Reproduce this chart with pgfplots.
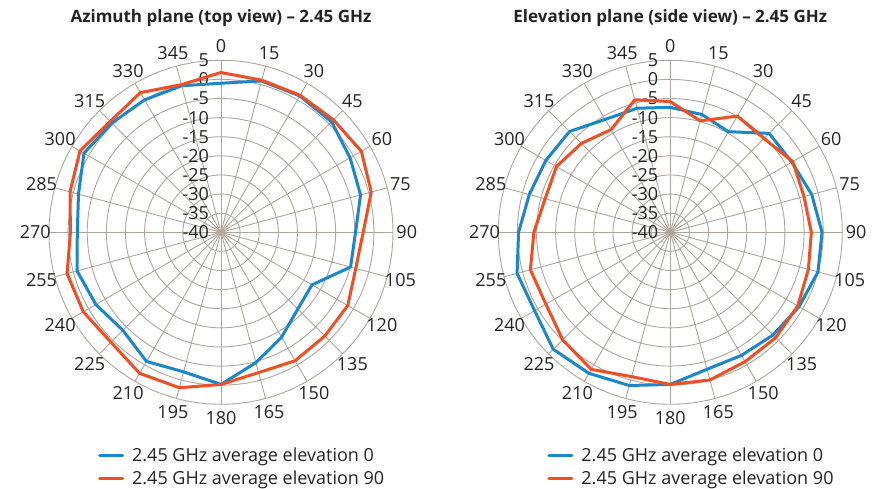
\documentclass[border=0pt]{standalone}
\usepackage{fontspec}
\setmainfont{Open Sans}
\usepackage{pgfplots}
\pgfplotsset{compat=1.18}
\usepackage{pgfplotstable}
\definecolor{cblue}{RGB}{27,134,204}
\definecolor{cred}{RGB}{240,78,35}
\definecolor{cgrid}{RGB}{175,165,155}
\definecolor{ctext}{RGB}{35,35,35}

% angle (deg, clockwise from top), value (dB) elevation 0 (b), elevation 90 (r)
\pgfplotstableread{
a b r
0 -1.0 1.8
15 1.0 1.2
30 1.2 1.4
45 0.9 1.6
60 -1.0 2.4
75 -2.2 0.7
90 -4.8 -2.8
105 -4.9 -3.5
120 -12.5 -1.7
135 -11.6 -1.6
150 -8.3 -1.2
165 -4.7 -2.0
180 -0.2 -0.2
195 -2.2 2.1
210 -1.0 2.6
225 -3.7 0.7
240 -2.2 1.6
255 -1.0 1.7
270 -2.4 -0.6
285 -1.4 0.9
300 1.4 2.6
315 0.4 1.0
330 0.0 2.2
345 -0.3 0.0
360 -1.0 1.8
}\azi

\pgfplotstableread{
a b r
0 -7.3 -5.8
15 -8.1 -9.8
30 -9.6 -4.9
45 -3.4 -5.3
60 -3.3 -3.0
75 -1.7 -3.8
90 -0.3 -3.1
105 0.0 -2.6
120 -1.1 -1.5
135 -2.0 -1.0
150 -2.8 -0.9
165 -2.9 0.0
180 -0.2 -0.2
195 1.5 -0.9
210 2.6 1.4
225 3.3 -0.2
240 1.0 -2.4
255 1.5 -2.1
270 -0.3 -4.3
285 -1.8 -6.1
300 -2.4 -5.6
315 -2.7 -7.1
330 -5.9 -9.0
345 -6.4 -4.1
360 -7.3 -5.8
}\ele

\tikzset{lab/.style={font=\fontsize{18}{20}\selectfont, text=ctext, inner sep=0pt}}

\pgfplotsset{
  polstyle/.style={
    hide axis, scale only axis, width=382.2pt, height=382.2pt,
    xmin=-50,xmax=50,ymin=-50,ymax=50, clip=false, anchor=center,
    legend style={draw=none, fill=none, inner sep=0pt,
      font=\fontsize{18}{21}\selectfont, text=ctext,
      at={(0.178,-0.062)}, anchor=north west, row sep=5pt,
      nodes={inner sep=1pt},
      /tikz/every even column/.append style={column sep=0pt}},
    legend cell align=left,
    legend image code/.code={\draw[##1, line width=3pt] (0pt,0pt) -- (23pt,0pt);},
    title style={at={(0.5,1.046)}, anchor=center,
      font=\bfseries\fontsize{17}{20}\selectfont, text=ctext},
  },
  ser/.style={line width=3pt, line join=round, line cap=round},
}

\newcommand\polgrid{%
  \pgfplotsinvokeforeach{5,10,...,45}{\draw[cgrid, line width=0.9pt] (axis cs:0,0) circle[radius=##1];}
  \pgfplotsinvokeforeach{0,15,...,345}{\draw[cgrid, line width=0.9pt] (axis cs:0,0) -- (axis cs:{45*sin(##1)},{45*cos(##1)});}
  \pgfplotsinvokeforeach{0,15,...,345}{\node[lab] at (axis cs:{48.6*sin(##1)},{48.6*cos(##1)}) {##1};}
  \node[lab, anchor=east] at (axis cs:-3.1,45) {5};
  \node[lab, anchor=east] at (axis cs:-3.1,40) {0};
  \node[lab, anchor=east] at (axis cs:-3.1,35) {-5};
  \node[lab, anchor=east] at (axis cs:-3.1,30) {-10};
  \node[lab, anchor=east] at (axis cs:-3.1,25) {-15};
  \node[lab, anchor=east] at (axis cs:-3.1,20) {-20};
  \node[lab, anchor=east] at (axis cs:-3.1,15) {-25};
  \node[lab, anchor=east] at (axis cs:-3.1,10) {-30};
  \node[lab, anchor=east] at (axis cs:-3.1,5) {-35};
  \node[lab, anchor=east] at (axis cs:-3.1,0) {-40};
}

\begin{document}
\begin{tikzpicture}[x=1pt,y=1pt]
\begin{axis}[polstyle, at={(221pt,255.7pt)}, title={Azimuth plane (top view) – 2.45 GHz}]
\polgrid
\addplot[ser, cblue] table[x expr={(\thisrow{b}+40)*sin(\thisrow{a})}, y expr={(\thisrow{b}+40)*cos(\thisrow{a})}] {\azi};
\addlegendentry{\hspace{7pt}2.45 GHz average elevation 0}
\addplot[ser, cred] table[x expr={(\thisrow{r}+40)*sin(\thisrow{a})}, y expr={(\thisrow{r}+40)*cos(\thisrow{a})}] {\azi};
\addlegendentry{\hspace{7pt}2.45 GHz average elevation 90}
\end{axis}
\begin{axis}[polstyle, at={(670.3pt,255.7pt)}, title={Elevation plane (side view) – 2.45 GHz}]
\polgrid
\addplot[ser, cblue] table[x expr={(\thisrow{b}+40)*sin(\thisrow{a})}, y expr={(\thisrow{b}+40)*cos(\thisrow{a})}] {\ele};
\addlegendentry{\hspace{7pt}2.45 GHz average elevation 0}
\addplot[ser, cred] table[x expr={(\thisrow{r}+40)*sin(\thisrow{a})}, y expr={(\thisrow{r}+40)*cos(\thisrow{a})}] {\ele};
\addlegendentry{\hspace{7pt}2.45 GHz average elevation 90}
\end{axis}
\pgfresetboundingbox
\path[use as bounding box] (0,0) rectangle (872,488);
\end{tikzpicture}
\end{document}
